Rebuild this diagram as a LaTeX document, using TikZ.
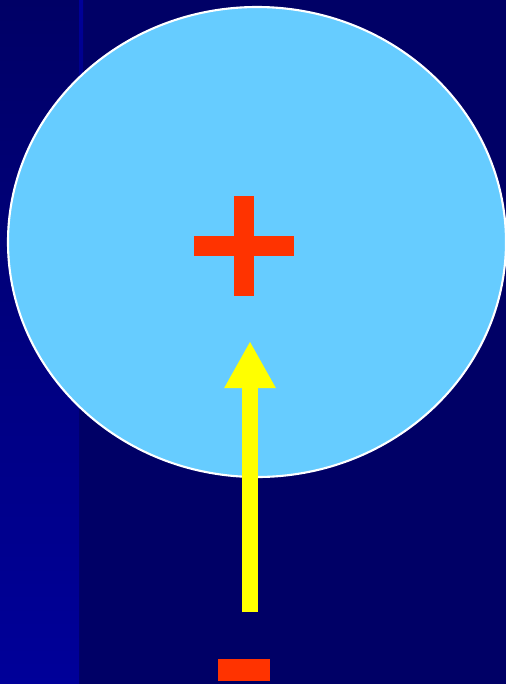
\documentclass[tikz,border=0pt]{standalone}
\usetikzlibrary{arrows.meta}
\definecolor{navy}{HTML}{000066}
\definecolor{royal}{HTML}{000099}
\definecolor{sky}{HTML}{66CCFF}
\definecolor{signred}{HTML}{FF3300}
\definecolor{beam}{HTML}{FFFF00}
\begin{document}
\begin{tikzpicture}[x=0.02cm,y=-0.02cm,
   charge/.style={fill=signred,draw=none},
   field/.style={draw=beam,line width=16*0.02cm,
                 -{Triangle[length=47*0.02cm,width=48*0.02cm]}}]
  % background
  \fill[navy] (0,0) rectangle (506,684);
  \useasboundingbox (0,0) rectangle (506,684);
  \shade[top color=navy,bottom color=royal] (0,0) rectangle (79,684);
  \shade[top color=royal,bottom color=navy] (79,0) rectangle (83,300);
  % nucleus
  \draw[white,fill=sky,line width=1.2pt] (257,242) ellipse [x radius=249,y radius=235];
  % positive sign
  \fill[charge] (234,196) rectangle (254,296);
  \fill[charge] (194,236) rectangle (294,256);
  % negative sign
  \fill[charge] (218,659) rectangle (270,681);
  % arrow
  \coordinate (tail) at (250,612);
  \coordinate (head) at (250,341);
  \draw[field] (tail) -- (head);
\end{tikzpicture}
\end{document}
